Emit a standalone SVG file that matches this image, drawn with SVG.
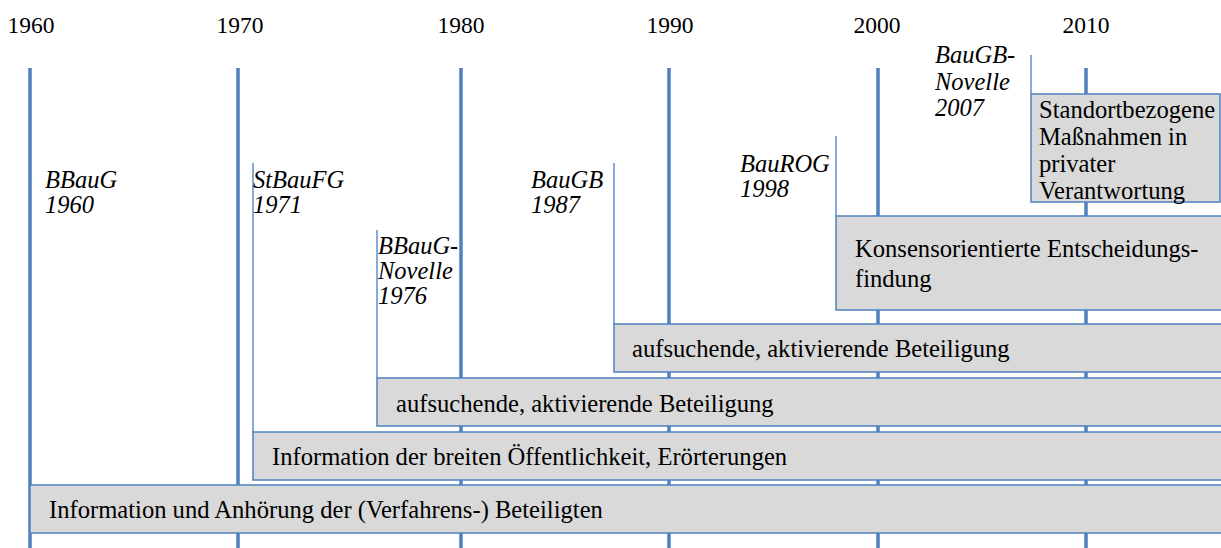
<svg xmlns="http://www.w3.org/2000/svg" width="1221" height="548" viewBox="0 0 1221 548">
<style>
text{font-family:'Liberation Serif','Times New Roman','DejaVu Serif',serif;fill:#000}
.yr{font-size:23.5px;text-anchor:middle}
.grid{stroke:#4f81bd;stroke-width:3.5}
.law{stroke:#5b8fd0;stroke-width:1.5}
.box{fill:#d9d9d9;stroke:#4f81bd;stroke-width:1.5}
.bt{font-size:24.6px}
.lt{font-size:24.5px;font-style:italic}
</style>
<rect width="1221" height="548" fill="#fff"/>
<g id="axis">
<text class="yr" x="31" y="33">1960</text>
<text class="yr" x="240" y="33">1970</text>
<text class="yr" x="461" y="33">1980</text>
<text class="yr" x="670" y="33">1990</text>
<text class="yr" x="877" y="33">2000</text>
<text class="yr" x="1086" y="33">2010</text>
<line class="grid" x1="30" y1="68" x2="30" y2="548"/>
<line class="grid" x1="238" y1="68" x2="238" y2="548"/>
<line class="grid" x1="461" y1="68" x2="461" y2="548"/>
<line class="grid" x1="669" y1="68" x2="669" y2="548"/>
<line class="grid" x1="878" y1="68" x2="878" y2="548"/>
<line class="grid" x1="1086" y1="68" x2="1086" y2="548"/>
</g>
<g id="connectors">
<line class="law" x1="253" y1="163" x2="253" y2="432"/>
<line class="law" x1="377" y1="230" x2="377" y2="378"/>
<line class="law" x1="614" y1="163" x2="614" y2="324"/>
<line class="law" x1="836" y1="136" x2="836" y2="216"/>
<line class="law" x1="1031" y1="55" x2="1031" y2="94"/>
</g>
<g id="law-bbaug1960"><text class="lt" x="45" y="188">BBauG</text><text class="lt" x="45" y="213">1960</text></g>
<g id="law-stbaufg1971"><text class="lt" x="253" y="188">StBauFG</text><text class="lt" x="253" y="213">1971</text></g>
<g id="law-bbaug1976"><text class="lt" x="378" y="254">BBauG-</text><text class="lt" x="378" y="279">Novelle</text><text class="lt" x="378" y="304">1976</text></g>
<g id="law-baugb1987"><text class="lt" x="531" y="188">BauGB</text><text class="lt" x="531" y="213">1987</text></g>
<g id="law-baurog1998"><text class="lt" x="740" y="172">BauROG</text><text class="lt" x="740" y="197">1998</text></g>
<g id="law-baugb2007"><text class="lt" x="935" y="63">BauGB-</text><text class="lt" x="935" y="90">Novelle</text><text class="lt" x="935" y="116">2007</text></g>
<g id="box1"><rect class="box" x="30" y="485" width="1195" height="48"/><text class="bt" x="49" y="518">Information und Anhörung der (Verfahrens-) Beteiligten</text></g>
<g id="box2"><rect class="box" x="253" y="432" width="972" height="48"/><text class="bt" x="272" y="465">Information der breiten Öffentlichkeit, Erörterungen</text></g>
<g id="box3"><rect class="box" x="377" y="378" width="848" height="48"/><text class="bt" x="396" y="412">aufsuchende, aktivierende Beteiligung</text></g>
<g id="box4"><rect class="box" x="614" y="324" width="611" height="48"/><text class="bt" x="632" y="357">aufsuchende, aktivierende Beteiligung</text></g>
<g id="box5"><rect class="box" x="836" y="216" width="389" height="94"/><text class="bt" x="855" y="257">Konsensorientierte Entscheidungs-</text><text class="bt" x="855" y="287">findung</text></g>
<g id="box6"><rect class="box" x="1031" y="94" width="189" height="108"/><text class="bt" x="1039" y="118">Standortbezogene</text><text class="bt" x="1039" y="145">Maßnahmen in</text><text class="bt" x="1039" y="172">privater</text><text class="bt" x="1039" y="199">Verantwortung</text></g>
</svg>
